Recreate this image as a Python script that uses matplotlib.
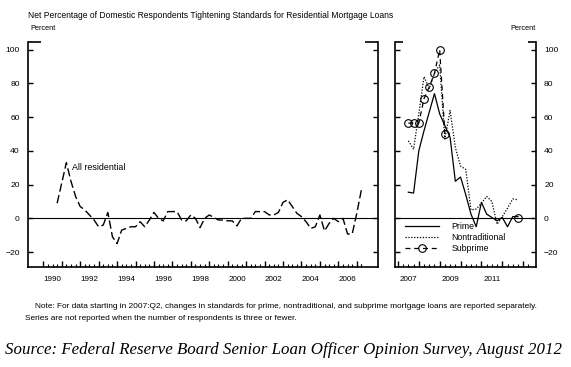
import matplotlib.pyplot as plt
import numpy as np
import pandas as pd

plt.rcParams['font.family'] = ['Liberation Sans', 'DejaVu Sans']

# all residential, quarterly 1990Q3 - 2007Q1
all_quarters = pd.period_range('1990Q3', '2007Q1', freq='Q')
all_residential = [9, 21, 33, 22, 13, 7, 5, 2, -1, -5,
                   -4, 3.5, -11, -15, -7, -6, -5, -5, -2, -5,
                   -1, 3.5, 0, -1.5, 4, 4, 4, -1, -1.5, 2,
                   0, -5.5, 0, 2, 0.5, -1, -1, -1.5, -1.5, -4.5,
                   0, 0, 0, 4, 4, 4, 2, 2, 3.5, 9.5,
                   11, 7, 3, 1, -2, -6, -5, 2, -7.5, -3,
                   0, -2, 0, -9.3, -9.3, 3, 17]

# by loan type, quarterly 2007Q2 - 2012Q3
new_quarters = pd.period_range('2007Q2', '2012Q3', freq='Q')
prime = [15.5, 15, 40, 52, 63, 74, 62, 55, 48, 22, 24.5,
         14, 2.5, -5, 9.5, 2.5, 0.5, -1.5, 0.5, -5, 1, 1]
nontraditional = [46, 41, 62, 84, 77, 86, 91, 47, 64, 42, 31,
                  29, 5, 5.5, 9, 13, 10, -3.5, 1, 6, 11.5, 11]
subprime = [56.5, 56.5, 56.5, 71, 78, 86, 100, 50] + [np.nan] * 13 + [0]

left_years = list(range(1990, 2007, 2))
right_years = [2007, 2009, 2011]
yticks = [-20, 0, 20, 40, 60, 80, 100]


def qpos(periods):
    # plotted at end of quarter
    return np.array([p.year + p.quarter / 4 for p in periods])


W, H = 571, 367
fig = plt.figure(figsize=(W / 100, H / 100), dpi=100)
ax1 = fig.add_axes([28 / W, 1 - 266.7 / H, 350 / W, 225 / H])
ax2 = fig.add_axes([395 / W, 1 - 266.7 / H, 140.7 / W, 225 / H])


def style_axis(ax, x0, x1, tick_years, label_years, labels_right, cap):
    ax.set_ylim(-28.7, 104.8)
    ax.set_xlim(x0, x1)
    ax.spines['top'].set_visible(False)
    for s in ['left', 'right', 'bottom']:
        ax.spines[s].set_linewidth(1.2)
    ax.axhline(0, color='black', lw=0.8, zorder=1)
    ax.set_yticks(yticks)
    ax.tick_params(axis='y', direction='in', length=3.8, width=1.0,
                   left=True, right=True, labelsize=6.1, pad=6.0,
                   labelleft=not labels_right, labelright=labels_right)
    ax.set_xticks(tick_years)
    ax.set_xticklabels([])
    q = np.arange(tick_years[0], tick_years[-1] + 0.3, 0.25)
    ax.set_xticks([v for v in q if v % 1 != 0], minor=True)
    ax.tick_params(axis='x', which='major', direction='in', length=4.5, width=1.0)
    ax.tick_params(axis='x', which='minor', direction='in', length=2.5, width=0.8)
    sec = ax.secondary_xaxis('bottom')
    sec.set_xticks([y + 0.5 for y in label_years], [str(y) for y in label_years])
    sec.tick_params(length=0, labelsize=5.8, pad=6.5)
    sec.spines['bottom'].set_visible(False)
    # caps at the top of the vertical axes
    ax.plot([0, cap], [1, 1], transform=ax.transAxes, color='black',
            lw=1.2, clip_on=False, solid_capstyle='butt')
    ax.plot([1 - cap, 1], [1, 1], transform=ax.transAxes, color='black',
            lw=1.2, clip_on=False, solid_capstyle='butt')


style_axis(ax1, 1989.17, 2008.15, list(range(1990, 2008)), left_years, False, 0.036)
style_axis(ax2, 2006.86, 2013.6, list(range(2007, 2014)), right_years, True, 0.058)
# extra quarter tick after last year on left panel
ax1.set_xticks(list(ax1.get_xticks(minor=True)) + [2007.25], minor=True)

ax1.plot(qpos(all_quarters), all_residential, color='black', lw=1.0,
         dashes=(6, 2.5))
ax1.text(1991.55, 30, 'All residential', fontsize=6.4, va='center', ha='left')

x2 = qpos(new_quarters)
ax2.plot(x2, prime, color='black', lw=0.9, label='Prime')
ax2.plot(x2, nontraditional, color='black', lw=0.9, dashes=(1, 1.3),
         label='Nontraditional')
ax2.plot(x2, subprime, color='black', lw=0.9, dashes=(4, 3), marker='o',
         markersize=5.5, markerfacecolor='none', markeredgewidth=0.8,
         label='Subprime')
ax2.legend(loc='upper left', bbox_to_anchor=(0.071, 0.2), frameon=False,
           fontsize=6.3, handlelength=3.9, handletextpad=1.4,
           labelspacing=0.25, borderpad=0, borderaxespad=0)

fig.text(28 / W, 1 - 15 / H,
         'Net Percentage of Domestic Respondents Tightening Standards for Residential Mortgage Loans',
         fontsize=6.15, va='center', ha='left')
fig.text(30 / W, 1 - 29 / H, 'Percent', fontsize=5.3, va='center', ha='left')
fig.text(536 / W, 1 - 29 / H, 'Percent', fontsize=5.3, va='center', ha='right')

fig.text(35 / W, 1 - 306 / H,
         'Note: For data starting in 2007:Q2, changes in standards for prime, nontraditional, '
         'and subprime mortgage loans are reported separately.',
         fontsize=5.95, va='center', ha='left')
fig.text(25 / W, 1 - 319 / H,
         'Series are not reported when the number of respondents is three or fewer.',
         fontsize=5.95, va='center', ha='left')
fig.text(5 / W, 1 - 350 / H,
         'Source: Federal Reserve Board Senior Loan Officer Opinion Survey, August 2012',
         fontsize=12.2, style='italic', family='Liberation Serif', va='center', ha='left')

fig.savefig('out.png', dpi=100)
